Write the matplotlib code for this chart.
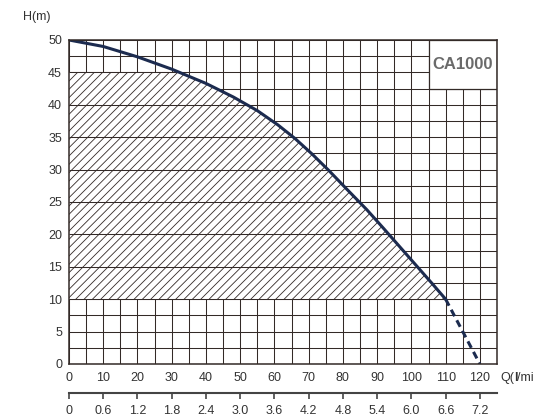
import numpy as np
import matplotlib
matplotlib.use("Agg")
import matplotlib.pyplot as plt
from matplotlib.patches import Polygon, Rectangle

# pump curve (Q in l/min, H in m)
q_curve = [0, 10, 20, 30, 40, 48, 55, 61, 66, 71, 76, 81, 87, 92, 96, 101, 106, 110]
h_curve = [50, 49.0, 47.4, 45.5, 43.3, 41.2, 39.1, 36.9, 34.8, 32.4, 29.8, 27.05,
           23.8, 20.85, 18.45, 15.45, 12.45, 10.0]
q_dash = [110, 120]
h_dash = [10, 0]

q_ticks = [0, 10, 20, 30, 40, 50, 60, 70, 80, 90, 100, 110, 120]
h_ticks = [0, 5, 10, 15, 20, 25, 30, 35, 40, 45, 50]
m3h_ticks = [0, 0.6, 1.2, 1.8, 2.4, 3.0, 3.6, 4.2, 4.8, 5.4, 6.0, 6.6, 7.2]
m3h_labels = ["0", "0.6", "1.2", "1.8", "2.4", "3.0", "3.6", "4.2", "4.8", "5.4", "6.0", "6.6", "7.2"]

model = "CA1000"
h_top, h_bottom = 45, 10   # hatched working range

plt.rcParams["font.family"] = ["Liberation Sans", "DejaVu Sans"]
plt.rcParams["hatch.linewidth"] = 0.6
grid_c = "#332a27"
text_c = "#333333"
curve_c = "#1c2b4f"

fig = plt.figure(figsize=(5.38, 4.18), dpi=100)
ax = fig.add_axes([69 / 538, 1 - 364 / 418, 428 / 538, 324 / 418])
ax.set_xlim(0, 125)
ax.set_ylim(0, 50)

# grid
for x in np.arange(0, 125.1, 5):
    ax.axvline(x, color=grid_c, lw=0.75, zorder=1)
for y in np.arange(0, 50.1, 2.5):
    ax.axhline(y, color=grid_c, lw=0.75, zorder=1)

# hatched area under the curve between 10 and 45 m
q_rev = q_curve[::-1]
h_rev = h_curve[::-1]
q_at_top = np.interp(h_top, h_rev, q_rev)
poly_pts = [(0, h_bottom), (0, h_top), (q_at_top, h_top)]
poly_pts += [(q, h) for q, h in zip(q_curve, h_curve) if h < h_top]
poly = Polygon(poly_pts, closed=True, facecolor="white", edgecolor=grid_c,
               hatch="////", lw=0, zorder=2)
ax.add_patch(poly)
for y in h_ticks:
    if h_bottom <= y <= h_top:
        ax.hlines(y, 0, np.interp(y, h_rev, q_rev), color=grid_c, lw=0.75, zorder=3)

# curve
ax.plot(q_curve, h_curve, color=curve_c, lw=2.2, zorder=4,
        solid_capstyle="round", solid_joinstyle="round")
ax.plot(q_dash, h_dash, color=curve_c, lw=2.2, ls=(0, (2.4, 1.5)), zorder=4)

# model box
ax.add_patch(Rectangle((105, 42.5), 20, 7.5, facecolor="white", edgecolor=grid_c,
                       lw=0.9, zorder=5))
ax.text(115, 46.2, model, ha="center", va="center", fontsize=12, fontweight="bold",
        color="#6a6a6a", zorder=6)

for s in ax.spines.values():
    s.set_color(grid_c)
    s.set_linewidth(1.1)
    s.set_zorder(6)

ax.set_xticks(q_ticks)
ax.set_yticks(h_ticks)
ax.tick_params(length=0, labelsize=9, labelcolor=text_c, pad=6)
ax.tick_params(axis="y", pad=5)

# second flow scale (m3/h)
sec = ax.secondary_xaxis(-0.0895, functions=(lambda q: q * 0.06, lambda m: m / 0.06))
sec.set_xticks(m3h_ticks)
sec.set_xticklabels(m3h_labels)
sec.tick_params(direction="out", length=4, width=1.2, color="#444444",
                labelsize=9, labelcolor=text_c, pad=5)
sec.spines["bottom"].set_color("#444444")
sec.spines["bottom"].set_linewidth(1.5)

fig.text(37 / 538, 1 - 17 / 418, "H(m)", ha="center", va="center", fontsize=9, color=text_c)
t1 = fig.text(500 / 538, 1 - 378 / 418, "Q(", ha="left", va="center", fontsize=9, color=text_c)
t2 = ax.annotate("l", xy=(1, 0), xycoords=t1, va="bottom", fontsize=9,
                 fontweight="bold", color=text_c)
ax.annotate("/mi", xy=(1, 0), xycoords=t2, va="bottom", fontsize=9, color=text_c)

fig.savefig("out.png", dpi=100)
